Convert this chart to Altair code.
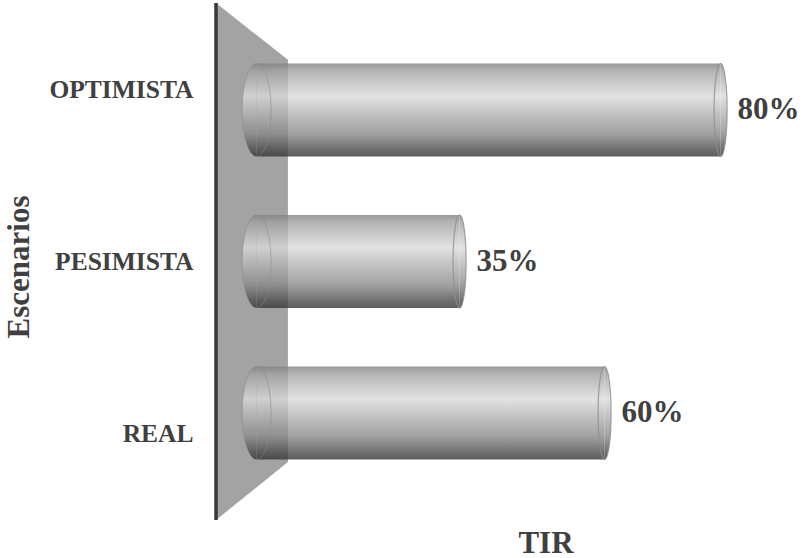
import altair as alt
import pandas as pd

# ---- data ----
scenarios = ["OPTIMISTA", "PESIMISTA", "REAL"]
tir = [80, 35, 60]
tir_labels = ["80%", "35%", "60%"]

# decorative back wall (x in TIR units, y as fraction of plot height from top)
wall_x = [-7, 5.4]
wall_top = [0.0, 0.11]
wall_bottom = [1.0, 0.888]

df = pd.DataFrame({"escenario": scenarios, "tir": tir, "label": tir_labels})
wall = pd.DataFrame({"wx": wall_x, "wt": wall_top, "wb": wall_bottom})

FONT = "Times New Roman, Liberation Serif, serif"
TXT = "#404040"
W, H = 580, 517
XDOM = [-7, 93]

grad = alt.Gradient(
    gradient="linear", x1=0, x2=0, y1=0, y2=1,
    stops=[
        alt.GradientStop(offset=0.0, color="#818181"),
        alt.GradientStop(offset=0.08, color="#a1a1a1"),
        alt.GradientStop(offset=0.35, color="#dbdbdb"),
        alt.GradientStop(offset=0.5, color="#bbbbbb"),
        alt.GradientStop(offset=0.75, color="#8a8a8a"),
        alt.GradientStop(offset=0.92, color="#4c4c4c"),
        alt.GradientStop(offset=1.0, color="#333333"),
    ],
)

ybar = alt.Y("escenario:N", sort=scenarios, axis=None,
             scale=alt.Scale(paddingInner=0.385, paddingOuter=0.399))
xscale = alt.Scale(domain=XDOM, nice=False, zero=True)

# one shared x axis definition for every layer (so the merged axis is kept)
x_axis = alt.Axis(title="TIR", orient="bottom", labels=False, ticks=False,
                  domain=False, grid=False, titleX=329.5, titleY=23,
                  titleBaseline="middle", titleAlign="center",
                  titleFont=FONT, titleFontSize=31, titleFontWeight=700)

SIZE = 8686
left_half = "M0,-1 A0.31,1 0 0 0 0,1 Z"
left_full = "M0,-1 A0.31,1 0 0 1 0,1 A0.31,1 0 0 1 0,-1 Z"
right_half = "M0,-1 A0.14,1 0 0 1 0,1 Z"
right_full = "M0,-1 A0.14,1 0 0 1 0,1 A0.14,1 0 0 1 0,-1 Z"

base = alt.Chart(df)

bars = base.mark_bar(color=grad, opacity=0.8).encode(
    x=alt.X("tir:Q", scale=xscale, axis=x_axis), y=ybar)
capL = base.transform_calculate(z="0").mark_point(
    shape=left_half, size=SIZE, filled=True, color=grad, opacity=0.8, strokeWidth=0
).encode(x=alt.X("z:Q", axis=x_axis), y=ybar)
capLo = base.transform_calculate(z="0").mark_point(
    shape=left_full, size=SIZE, filled=False, color="#8a8a8a", opacity=0.55, strokeWidth=1
).encode(x=alt.X("z:Q", axis=x_axis), y=ybar)
capR = base.mark_point(
    shape=right_half, size=SIZE, filled=True, color=grad, opacity=0.8, strokeWidth=0
).encode(x=alt.X("tir:Q", axis=x_axis), y=ybar)
capRo = base.mark_point(
    shape=right_full, size=SIZE, filled=False, color="#8f8f8f", opacity=0.8, strokeWidth=1.2
).encode(x=alt.X("tir:Q", axis=x_axis), y=ybar)
vals = base.mark_text(
    align="left", baseline="middle", dx=17, font=FONT, fontSize=31,
    fontWeight="bold", color=TXT
).encode(x=alt.X("tir:Q", axis=x_axis), y=ybar, text="label:N")

bar_layer = alt.layer(bars, capL, capLo, capR, capRo, vals)

wy = alt.Y("wt:Q", scale=alt.Scale(domain=[0, 1], reverse=True, nice=False), axis=None)
wall_area = alt.Chart(wall).mark_area(color="#a3a3a3", opacity=1).encode(
    x=alt.X("wx:Q", scale=xscale, axis=x_axis),
    y=wy, y2="wb:Q",
)
wall_line = alt.Chart(wall).transform_filter("datum.wx < 0").mark_rule(
    color="#383838", strokeWidth=3.5
).encode(
    x=alt.X("wx:Q", axis=x_axis), y=wy, y2="wb:Q",
)
wall_layer = alt.layer(wall_area, wall_line)

label_layer = base.mark_point(opacity=0).encode(
    y=alt.Y("escenario:N", sort=scenarios,
            scale=alt.Scale(type="point", padding=0.5),
            axis=alt.Axis(title="Escenarios", orient="left", ticks=False, domain=False,
                          grid=False, labelFontSize=25.5, labelPadding=23,
                          labelAlign="right", labelBaseline="middle",
                          titleFont=FONT, titleFontSize=31, titleFontWeight=700,
                          titleX=-197, titleY=263.5, titleAngle=270,
                          titleBaseline="middle", titleAlign="center")),
)

chart = alt.layer(wall_layer, bar_layer, label_layer).resolve_scale(
    y="independent"
).properties(
    width=W, height=H,
    background="white",
    autosize=alt.AutoSizeParams(type="none"),
    padding={"left": 216, "top": 3, "right": 12, "bottom": 38},
).configure_view(strokeWidth=0, stroke="transparent").configure_axis(
    labelFont=FONT, labelFontWeight="bold", labelColor=TXT,
    titleFont=FONT, titleFontWeight=700, titleColor=TXT,
)

chart.save("out.html", embed_options={"renderer": "svg", "actions": False})
